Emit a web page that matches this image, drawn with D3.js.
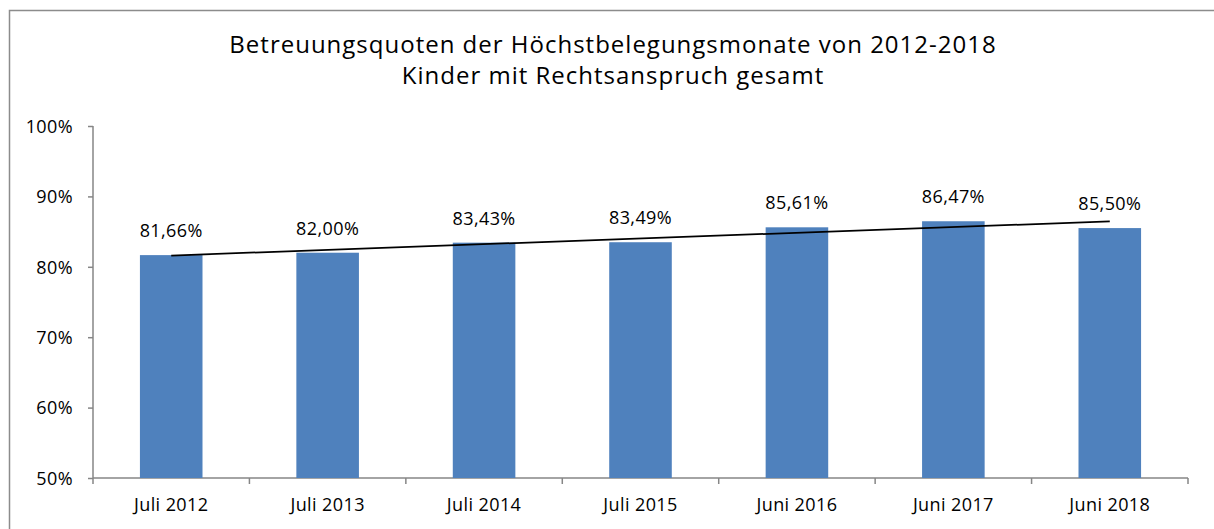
<!DOCTYPE html>
<html>
<head>
<meta charset="utf-8">
<script src="https://cdn.jsdelivr.net/npm/d3@7"></script>
<style>
  body { margin: 0; background: #fff; }
  svg { display: block; font-family: "Open Sans", sans-serif; }
</style>
</head>
<body>
<div id="chart"></div>
<script>
WIDTH = 1214;
HEIGHT = 529;

// data
var categories = ["Juli 2012", "Juli 2013", "Juli 2014", "Juli 2015", "Juni 2016", "Juni 2017", "Juni 2018"];
var values = [81.66, 82.0, 83.43, 83.49, 85.61, 86.47, 85.5];
var valueLabels = ["81,66%", "82,00%", "83,43%", "83,49%", "85,61%", "86,47%", "85,50%"];
var yTicks = [50, 60, 70, 80, 90, 100];
var titleLines = [
  "Betreuungsquoten der Höchstbelegungsmonate von 2012-2018",
  "Kinder mit Rechtsanspruch gesamt"
];

var margin = { top: 126, right: 26, bottom: 51, left: 93 };

var svg = d3
  .select("#chart")
  .append("svg")
  .attr("width", WIDTH)
  .attr("height", HEIGHT);

// outer chart frame
svg
  .append("rect")
  .attr("x", 9.5)
  .attr("y", 10.5)
  .attr("width", WIDTH + 20)
  .attr("height", HEIGHT + 20)
  .style("fill", "none")
  .style("stroke", "#8c8c8c")
  .style("stroke-width", 1.5);

var title = svg.append("g");
title
  .selectAll("text")
  .data(titleLines)
  .enter()
  .append("text")
  .attr("x", 613)
  .attr("y", (d, i) => 53 + i * 31)
  .attr("text-anchor", "middle")
  .style("font-size", "24px")
  .style("letter-spacing", "1px")
  .style("fill", "#000")
  .text(d => d);

const xScale = d3
  .scaleBand()
  .domain(categories)
  .range([margin.left, WIDTH - margin.right])
  .paddingInner(0.6)
  .paddingOuter(0.3);

const yScale = d3
  .scaleLinear()
  .domain([50, 100])
  .range([HEIGHT - margin.bottom, margin.top]);

var labelStyle = function(sel) {
  sel
    .style("font-family", "Open Sans")
    .style("font-size", "18px")
    .style("letter-spacing", "0.4px")
    .style("fill", "#000");
};

// y axis
var yAxis = svg
  .append("g")
  .attr("transform", "translate(" + margin.left + ",0)")
  .call(
    d3.axisLeft(yScale)
      .tickValues(yTicks)
      .tickSize(5)
      .tickFormat(d => d + "%")
  );
yAxis.select(".domain").attr("stroke", "#868686").attr("stroke-width", 1.5).attr("d", "M0," + yScale(100) + "V" + yScale(50));
yAxis.selectAll(".tick line").attr("stroke", "#868686").attr("stroke-width", 1.5);
yAxis
  .selectAll(".tick text")
  .attr("x", -20)
  .attr("dy", "0.35em")
  .call(labelStyle);

// x axis
var x0 = margin.left;
var x1 = WIDTH - margin.right;
var step = (x1 - x0) / categories.length;
var xAxis = svg.append("g").attr("transform", "translate(0," + yScale(50) + ")");
xAxis
  .append("line")
  .attr("x1", x0)
  .attr("x2", x1)
  .attr("stroke", "#868686")
  .attr("stroke-width", 1.5);
xAxis
  .selectAll("line.tk")
  .data(d3.range(categories.length + 1))
  .enter()
  .append("line")
  .attr("class", "tk")
  .attr("x1", d => x0 + d * step)
  .attr("x2", d => x0 + d * step)
  .attr("y1", 0)
  .attr("y2", 6)
  .attr("stroke", "#868686")
  .attr("stroke-width", 1.5);
xAxis
  .selectAll("text")
  .data(categories)
  .enter()
  .append("text")
  .attr("x", d => xScale(d) + xScale.bandwidth() / 2)
  .attr("y", 33)
  .attr("text-anchor", "middle")
  .call(labelStyle)
  .text(d => d);

// bars
var bar_g = svg.append("g");
bar_g
  .selectAll("rect")
  .data(values)
  .enter()
  .append("rect")
  .attr("x", (d, i) => xScale(categories[i]))
  .attr("y", d => yScale(d))
  .attr("width", xScale.bandwidth())
  .attr("height", d => yScale(50) - yScale(d))
  .style("fill", "#4f81bd");

// value labels
bar_g
  .selectAll("text")
  .data(values)
  .enter()
  .append("text")
  .attr("x", (d, i) => xScale(categories[i]) + xScale.bandwidth() / 2)
  .attr("y", d => yScale(d) - 18)
  .attr("text-anchor", "middle")
  .call(labelStyle)
  .text((d, i) => valueLabels[i]);

// linear trend line (least squares over the bars)
var n = values.length;
var mx = d3.mean(d3.range(n));
var my = d3.mean(values);
var slope =
  d3.sum(values, (v, i) => (i - mx) * (v - my)) /
  d3.sum(d3.range(n), i => (i - mx) * (i - mx));
var trend = [0, n - 1].map(i => [i, my + slope * (i - mx)]);

svg
  .append("path")
  .datum(trend)
  .attr(
    "d",
    d3.line()
      .x(d => xScale(categories[d[0]]) + xScale.bandwidth() / 2)
      .y(d => yScale(d[1]))
  )
  .attr("fill", "none")
  .attr("stroke", "#000")
  .attr("stroke-width", 1.75);
</script>
</body>
</html>
